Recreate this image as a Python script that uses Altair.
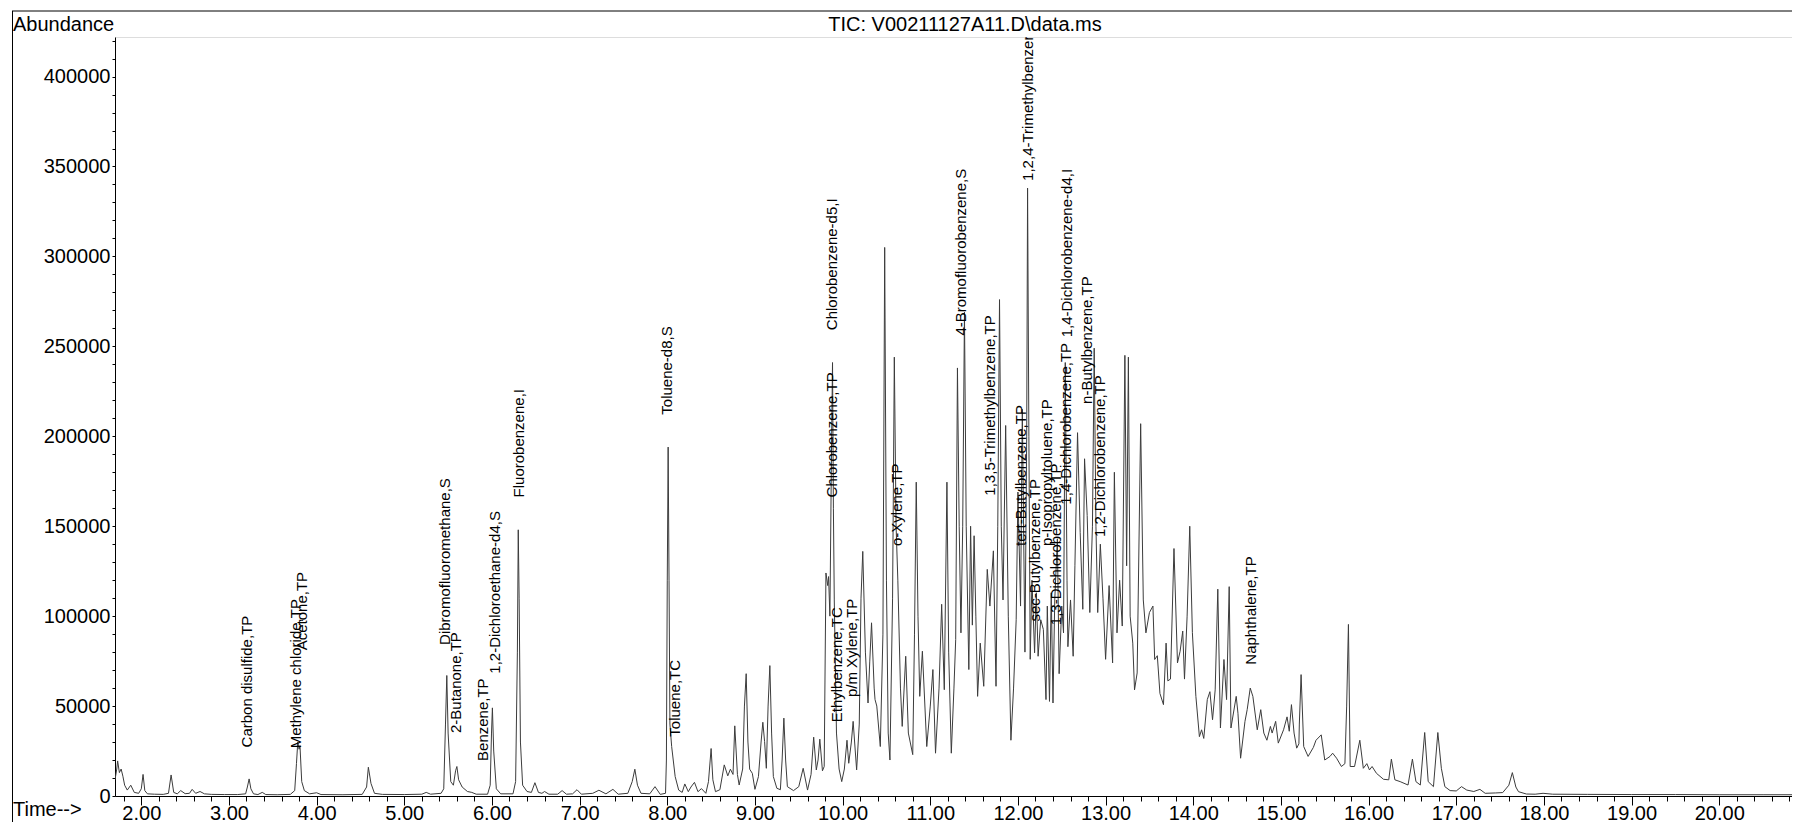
import altair as alt
import pandas as pd

# ---- chromatogram trace (retention time in min, abundance) ----
time_min = [
    1.70, 1.72, 1.73, 1.75, 1.77, 1.79, 1.81, 1.84, 1.88, 1.92, 1.97, 2.00, 2.02, 2.04, 2.07, 2.15, 2.25,
    2.31, 2.34, 2.37, 2.41, 2.45, 2.50, 2.55, 2.58, 2.62, 2.67, 2.72, 2.80, 2.95, 3.10, 3.19, 3.21, 3.23,
    3.25, 3.28, 3.33, 3.38, 3.42, 3.55, 3.70, 3.75, 3.77, 3.785, 3.80, 3.81, 3.83, 3.86, 3.92, 4.00, 4.05,
    4.30, 4.52, 4.57, 4.59, 4.62, 4.66, 4.75, 5.00, 5.20, 5.25, 5.30, 5.42, 5.45, 5.47, 5.485, 5.50, 5.53,
    5.56, 5.585, 5.60, 5.62, 5.66, 5.72, 5.77, 5.82, 5.95, 5.98, 5.995, 6.005, 6.02, 6.05, 6.10, 6.24,
    6.27, 6.29, 6.30, 6.31, 6.325, 6.35, 6.40, 6.45, 6.49, 6.53, 6.57, 6.60, 6.65, 6.75, 6.80, 6.85, 6.92,
    6.97, 7.02, 7.15, 7.22, 7.30, 7.38, 7.44,
    7.55, 7.60, 7.63, 7.66, 7.70, 7.80, 7.86, 7.92, 7.98, 7.99, 8.00, 8.01, 8.02, 8.03, 8.05, 8.09, 8.13,
    8.17, 8.20, 8.24, 8.27, 8.31, 8.35, 8.39, 8.44, 8.47, 8.50, 8.52, 8.55, 8.60, 8.65, 8.69, 8.72, 8.75,
    8.77, 8.80, 8.82, 8.86, 8.88, 8.90, 8.92, 8.94, 8.97, 9.00, 9.04, 9.07, 9.09, 9.11, 9.13, 9.15, 9.17,
    9.19, 9.21, 9.25, 9.29, 9.31, 9.33, 9.35, 9.37, 9.44, 9.50, 9.55, 9.60, 9.64, 9.67, 9.70, 9.72, 9.74,
    9.77, 9.79, 9.81, 9.83, 9.84, 9.855, 9.875, 9.885, 9.895, 9.905, 9.93, 9.96, 9.99, 10.02, 10.05,
    10.07, 10.10, 10.12, 10.16, 10.19, 10.21, 10.23, 10.26, 10.29, 10.31, 10.33, 10.36, 10.37, 10.39,
    10.43, 10.46, 10.48, 10.50, 10.52, 10.54, 10.57, 10.59, 10.61, 10.63,
    10.66, 10.68, 10.72, 10.75, 10.80, 10.82, 10.84, 10.86, 10.88, 10.91, 10.96, 11.00, 11.03, 11.06,
    11.10, 11.13, 11.16, 11.19, 11.21, 11.24, 11.27, 11.29, 11.31, 11.33, 11.35, 11.37, 11.39, 11.41,
    11.44, 11.46, 11.48, 11.50, 11.52, 11.54, 11.57, 11.61, 11.65, 11.68, 11.72, 11.75, 11.77, 11.79,
    11.81, 11.83, 11.86, 11.89, 11.92, 11.95, 11.98, 12.00, 12.03, 12.05, 12.08, 12.10, 12.11, 12.125,
    12.14, 12.16, 12.19, 12.21, 12.23, 12.26, 12.29, 12.32, 12.335, 12.36, 12.38, 12.40, 12.42, 12.45,
    12.47, 12.50, 12.52, 12.54, 12.56, 12.57, 12.60, 12.63, 12.65, 12.68, 12.71, 12.74, 12.76, 12.79,
    12.82, 12.85, 12.87, 12.89, 12.91, 12.94, 12.97, 13.00, 13.04, 13.08, 13.10, 13.13, 13.16, 13.19,
    13.22, 13.24, 13.26, 13.28, 13.31, 13.33, 13.36, 13.40, 13.43, 13.46, 13.50,
    13.54, 13.56, 13.59, 13.62, 13.66, 13.69, 13.71, 13.74, 13.78, 13.82, 13.85, 13.88, 13.90, 13.93,
    13.96, 13.99, 14.03, 14.07, 14.095, 14.12, 14.16, 14.19, 14.22, 14.25, 14.28, 14.31, 14.35, 14.38,
    14.41, 14.43, 14.49, 14.51, 14.54, 14.59, 14.615, 14.65, 14.68, 14.73, 14.77, 14.805, 14.84, 14.88,
    14.90, 14.94, 14.97, 15.03, 15.07, 15.095, 15.12, 15.15, 15.18, 15.205, 15.21, 15.23, 15.26, 15.31,
    15.37, 15.40, 15.46, 15.50, 15.56, 15.59, 15.635, 15.69, 15.73, 15.75, 15.77, 15.79, 15.84, 15.90,
    15.94, 15.98, 16.01, 16.04, 16.09, 16.17, 16.23, 16.26, 16.30,
    16.36, 16.45, 16.50, 16.54, 16.59, 16.64, 16.68, 16.74, 16.79, 16.83, 16.87, 16.93, 17.00, 17.06,
    17.12, 17.20, 17.27, 17.33, 17.45, 17.53, 17.60, 17.64, 17.68, 17.71, 17.80, 17.90, 17.99, 18.10,
    18.50, 19.00, 19.50, 20.00, 20.50, 20.83,
]
abundance = [
    9000, 15000, 19500, 13000, 15000, 11000, 6000, 3300, 6000, 2000, 1500, 4000, 12000, 3000, 1200, 1000, 900,
    1500, 11700, 2000, 1200, 3000, 1300, 1500, 3700, 1500, 2500, 1200, 900, 800, 800, 1200, 5000, 9500,
    4000, 1200, 800, 2000, 800, 700, 900, 3000, 18000, 30000, 26000, 28000, 8000, 3000, 1200, 1800, 800,
    700, 900, 5000, 16000, 7000, 1500, 900, 800, 1000, 2000, 1000, 1500, 4000, 40000, 67000, 35000, 8000,
    6000, 14000, 16400, 9000, 5000, 2500, 2000, 1000, 1000, 6000, 35000, 49000, 25000, 4000, 1200, 1200,
    8000, 80000, 148000, 110000, 30000, 6000, 2500, 2000, 7400, 2000, 1500, 2500, 1000, 1000, 3000, 1000, 1200,
    3500, 1000, 1500, 3200, 1200, 3700, 1000,
    1500, 8000, 14900, 6000, 1500, 1200, 5200, 900, 1500, 20000, 120000, 194000, 120000, 40000, 27500, 10800, 3300,
    2000, 6700, 2400, 5000, 7600, 2400, 4100, 1500, 8000, 26400, 9000, 2400, 3500, 17300, 11200, 14900, 12000,
    39000, 12000, 6100, 15000, 50000, 68000, 30000, 14900, 12600, 3700, 10800, 30000, 41000, 30300, 15400, 50000, 72500,
    35000, 10800, 4300, 3500, 20000, 43300, 20000, 5200, 3000, 5200, 15400, 3300, 12000, 32700, 14500, 20000, 31600,
    14000, 16400, 124000, 117000, 122000, 100000, 200000, 241000, 160000, 109000, 35000, 15000, 8000, 15000, 31000,
    18200, 30000, 41500, 14500, 40000, 110000, 136000, 80000, 51700, 75000, 96300, 60000, 53600, 50000,
    27500, 90000, 305000, 120000, 35000, 20000, 110000, 244000, 150000, 120000,
    60000, 38700, 77700, 35000, 23000, 90000, 174500, 100000, 55400, 80500, 27500, 50000, 70300, 23800,
    60000, 106600, 59100, 174500, 80000, 23800, 60000, 87000, 238000, 150000, 90700, 150000, 269000, 150000,
    70300, 150000, 95000, 144700, 100000, 55400, 85000, 61000, 126000, 105600, 136300, 61000, 150000, 276000,
    150000, 109000, 206000, 100000, 31000, 60000, 98000, 169000, 105600, 215000, 80000, 200000, 338000, 200000,
    76000, 120000, 79600, 113000, 77700, 98000, 92600, 53600, 105600, 52600, 113000, 51700, 109000, 143000,
    68000, 105600, 90700, 241000, 120000, 83000, 109000, 77700, 128000, 202000, 146600, 103800, 187500, 156000,
    102000, 150000, 249000, 150000, 102000, 140000, 110000, 76000, 117000, 74000, 180000, 90700, 120000, 94500,
    245000, 128000, 244000, 100000, 85000, 59000, 68400, 207000, 109000, 90700, 102000,
    105600, 75900, 78000, 57000, 50800, 85000, 64000, 65000, 137600, 74000, 80500, 91700, 65000, 100000,
    150000, 90800, 55400, 33000, 36800, 32000, 53600, 58000, 42400, 59000, 115000, 37800, 75900, 53600,
    116400, 37800, 55400, 46000, 21000, 41500, 48000, 60000, 55400, 36800, 48000, 35000, 31000, 38700,
    35000, 41500, 29400, 36800, 44000, 36000, 50800, 35000, 26600, 29000, 40000, 67500, 27500, 22000,
    27000, 31000, 34000, 20000, 22000, 23800, 21000, 16400, 18000, 50000, 95400, 16400, 16400, 31000,
    15400, 18000, 14500, 16400, 12600, 9300, 9000, 20500, 9000,
    8000, 6100, 20500, 8000, 6100, 35300, 8000, 5200, 35300, 15400, 5200, 3000, 2800, 5200,
    3300, 2500, 3700, 1500, 1700, 1900, 6000, 13000, 5000, 2400, 1100, 1000, 1500, 1000,
    900, 800, 800, 700, 700, 700,
]

# ---- peak annotations: name, retention time, abundance where the text starts ----
label_names = [
    "Carbon disulfide,TP", "Methylene chloride,TP", "Acetone,TP", "Dibromofluoromethane,S",
    "2-Butanone,TP", "Benzene,TP", "1,2-Dichloroethane-d4,S", "Fluorobenzene,I", "Toluene-d8,S",
    "Toluene,TC", "Chlorobenzene-d5,I", "Chlorobenzene,TP", "Ethylbenzene,TC", "p/m Xylene,TP",
    "o-Xylene,TP", "4-Bromofluorobenzene,S", "1,3,5-Trimethylbenzene,TP", "1,2,4-Trimethylbenzene,TP",
    "tert-Butylbenzene,TP", "sec-Butylbenzene,TP", "p-Isopropyltoluene,TP", "1,3-Dichlorobenzene,TP",
    "1,4-Dichlorobenzene,TP", "1,4-Dichlorobenzene-d4,I", "n-Butylbenzene,TP", "1,2-Dichlorobenzene,TP",
    "Naphthalene,TP",
]
label_time = [
    3.21, 3.76, 3.83, 5.47, 5.59, 5.90, 6.03, 6.31, 8.00, 8.09, 9.88, 9.88, 9.94, 10.11, 10.62, 11.35,
    11.68, 12.11, 12.03, 12.19, 12.33, 12.43, 12.55, 12.56, 12.79, 12.94, 14.66,
]
label_base = [
    27000, 26500, 81000, 84000, 35000, 19500, 68000, 166000, 212000, 33000, 259000, 166000, 41000, 55000,
    139000, 256000, 167000, 342000, 139000, 97000, 139000, 95000, 162000, 255000, 218000, 144000, 73000,
]

y_ticks = list(range(0, 420001, 10000))
x_ticks = [round(1.8 + 0.2 * i, 1) for i in range(96)]

TITLE = "TIC: V00211127A11.D\\data.ms"
FONT = "Liberation Sans"
X_MIN, X_MAX = 1.70, 20.83
Y_MAX = 422000
W, H = 1677, 759

df = pd.DataFrame({"t": time_min, "a": abundance})
lab = pd.DataFrame({"name": label_names, "t": label_time, "a": label_base})

xscale = alt.Scale(domain=[X_MIN, X_MAX], nice=False, zero=False)
yscale = alt.Scale(domain=[0, Y_MAX], nice=False, zero=True)

xaxis = alt.Axis(
    values=x_ticks, title=None, grid=False, labelFont=FONT, labelFontSize=20, labelColor="black",
    labelExpr="datum.value % 1 == 0 ? format(datum.value, '.2f') : ''",
    tickSize={"condition": {"test": "datum.value % 1 == 0", "value": 9}, "value": 5},
    tickColor="black", domainColor="black", labelPadding=-2, labelOverlap=False, labelFlush=False,
    labelBound=False,
)
yaxis = alt.Axis(
    values=y_ticks, title=None, grid=False, labelFont=FONT, labelFontSize=20, labelColor="black",
    labelExpr="datum.value % 50000 == 0 ? format(datum.value, 'd') : ''",
    tickSize=3, tickColor="black", domainColor="black", labelPadding=2, labelOverlap=False,
    labelFlush=False, labelBound=False,
)

trace = alt.Chart(df).mark_line(color="#3c3c3c", strokeWidth=1, clip=True).encode(
    x=alt.X("t:Q", scale=xscale, axis=xaxis),
    y=alt.Y("a:Q", scale=yscale, axis=yaxis),
    order="t:Q",
)

names = alt.Chart(lab).mark_text(
    angle=270, align="left", baseline="middle", fontSize=15, font=FONT, color="black", clip=True
).encode(
    x=alt.X("t:Q", scale=xscale, axis=xaxis),
    y=alt.Y("a:Q", scale=yscale, axis=yaxis),
    text="name:N",
)

one = pd.DataFrame({"s": [""]})
title_txt = alt.Chart(pd.DataFrame({"s": [TITLE]})).mark_text(
    fontSize=20, font=FONT, color="black", align="center", baseline="alphabetic"
).encode(x=alt.value(850), y=alt.value(-6), text="s:N")
abund_txt = alt.Chart(pd.DataFrame({"s": ["Abundance"]})).mark_text(
    fontSize=20, font=FONT, color="black", align="left", baseline="alphabetic"
).encode(x=alt.value(-102), y=alt.value(-6), text="s:N")
time_txt = alt.Chart(pd.DataFrame({"s": ["Time-->"]})).mark_text(
    fontSize=20, font=FONT, color="black", align="left", baseline="alphabetic"
).encode(x=alt.value(-102), y=alt.value(H + 20), text="s:N")
top_rule = alt.Chart(one).mark_rule(color="black", strokeWidth=1).encode(
    x=alt.value(-103), x2=alt.value(W), y=alt.value(-26)
)
left_rule = alt.Chart(one).mark_rule(color="black", strokeWidth=1).encode(
    x=alt.value(-102.5), y=alt.value(-26), y2=alt.value(H + 30)
)

chart = alt.layer(trace, names, title_txt, abund_txt, time_txt, top_rule, left_rule).properties(
    width=W, height=H,
    padding={"left": 107, "top": 29, "right": 0, "bottom": 26},
    autosize=alt.AutoSizeParams(type="none"),
    background="white",
).configure_view(stroke=None).configure(font=FONT)

chart.save("out.html", embed_options={"renderer": "svg", "actions": False})
